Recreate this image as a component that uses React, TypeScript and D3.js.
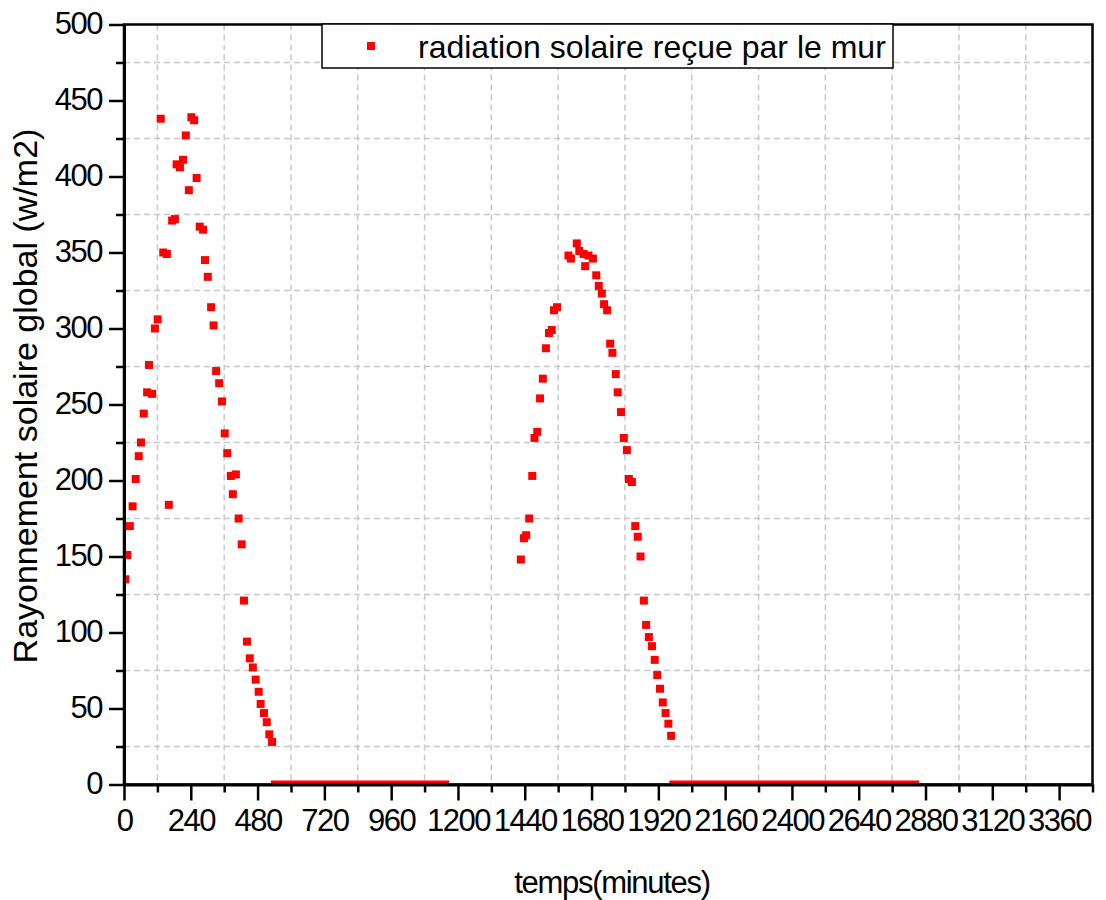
import React, { useEffect, useRef } from 'react';
import * as d3 from 'd3';

const seriesName = 'radiation solaire reçue par le mur';
const xTitle = 'temps(minutes)';
const yTitle = 'Rayonnement solaire global (w/m2)';

// first day, sunlit part
const day1Time = [5, 12, 21, 31, 42, 53, 61, 71, 83, 90, 101, 111, 121, 132, 141, 154, 161, 173, 183, 189,
  201, 212, 222, 233, 242, 252, 261, 272, 284, 291, 301, 313, 322, 331, 342, 352, 362, 371, 384, 391,
  402, 412, 423, 431, 442, 452, 463, 473, 484, 491, 503, 513, 522, 532];
const day1Value = [135, 151, 170, 183, 201, 216, 225, 244, 258, 276, 257, 300, 306, 438, 350, 349, 184, 371, 372, 408,
  406, 411, 427, 391, 439, 437, 399, 367, 365, 345, 334, 314, 302, 272, 264, 252, 231, 218, 203, 191,
  204, 175, 158, 121, 94, 83, 77, 69, 61, 53, 47, 41, 33, 28];

// second day, sunlit part
const day2Time = [1426, 1437, 1445, 1456, 1467, 1475, 1485, 1495, 1505, 1516, 1527, 1537, 1545, 1556,
  1597, 1606, 1627, 1636, 1651, 1657, 1669, 1685, 1697, 1706, 1717, 1725, 1736, 1747, 1755, 1767,
  1774, 1786, 1796, 1807, 1814, 1825, 1837, 1846, 1856, 1868, 1876, 1886, 1897, 1907, 1916, 1926,
  1936, 1946, 1956, 1966];
const day2Value = [148, 162, 164, 175, 203, 228, 232, 254, 267, 287, 297, 299, 312, 314,
  348, 346, 356, 351, 349, 341, 348, 346, 335, 328, 323, 316, 312, 290, 284, 270,
  258, 245, 228, 220, 201, 199, 170, 163, 150, 121, 105, 97, 91, 82, 72, 63,
  54, 47, 40, 32];

// nights: dense runs of zero readings (first and last time of each run)
const zeroRunStart = [542, 1974];
const zeroRunEnd = [1154, 2843];

const xTicks = [0, 240, 480, 720, 960, 1200, 1440, 1680, 1920, 2160, 2400, 2640, 2880, 3120, 3360];
const xMinor = [120, 360, 600, 840, 1080, 1320, 1560, 1800, 2040, 2280, 2520, 2760, 3000, 3240, 3480];
const yTicks = [0, 50, 100, 150, 200, 250, 300, 350, 400, 450, 500];
const yMinor = [25, 75, 125, 175, 225, 275, 325, 375, 425, 475];

const font = '"Liberation Sans", Arial, sans-serif';

function RadiationChart({ width = 1106, height = 900 }) {
  const svgRef = useRef<SVGSVGElement>(null);

  useEffect(() => {
    const svg = d3.select(svgRef.current);
    svg.selectAll('*').remove();

    const left = 124, right = 1092.5, top = 24.5, bottom = 784.5;
    const x = d3.scaleLinear().domain([0, 3480]).range([left, right]);
    const y = d3.scaleLinear().domain([0, 500]).range([bottom, top]);

    svg.append('rect').attr('width', width).attr('height', height).attr('fill', '#fff');

    // dashed grid sits on the minor tick positions only
    const grid = svg.append('g')
      .attr('stroke', '#c8c8c8')
      .attr('stroke-width', 1.5)
      .attr('stroke-dasharray', '6,4');
    grid.selectAll('line.v')
      .data(xMinor.filter(d => d < 3480))
      .enter()
      .append('line')
      .attr('x1', d => x(d)).attr('x2', d => x(d))
      .attr('y1', top).attr('y2', bottom);
    grid.selectAll('line.h')
      .data(yMinor)
      .enter()
      .append('line')
      .attr('x1', left).attr('x2', right)
      .attr('y1', d => y(d)).attr('y2', d => y(d));

    svg.append('clipPath').attr('id', 'plot-clip')
      .append('rect')
      .attr('x', left).attr('y', top)
      .attr('width', right - left).attr('height', bottom - top + 1);

    const points = [
      ...day1Time.map((t, i) => ({ t, v: day1Value[i] })),
      ...day2Time.map((t, i) => ({ t, v: day2Value[i] })),
    ];

    const marks = svg.append('g').attr('clip-path', 'url(#plot-clip)').attr('fill', '#ff0000');
    marks.selectAll('rect.pt')
      .data(points)
      .enter()
      .append('rect')
      .attr('x', d => x(d.t) - 4)
      .attr('y', d => y(d.v) - 4)
      .attr('width', 8)
      .attr('height', 8);
    marks.selectAll('rect.zero')
      .data(zeroRunStart.map((s, i) => ({ s, e: zeroRunEnd[i] })))
      .enter()
      .append('rect')
      .attr('x', d => x(d.s) - 4)
      .attr('y', y(0) - 4)
      .attr('width', d => x(d.e) - x(d.s) + 8)
      .attr('height', 8);

    // frame
    svg.append('rect')
      .attr('x', left).attr('y', top)
      .attr('width', right - left).attr('height', bottom - top)
      .attr('fill', 'none').attr('stroke', '#000').attr('stroke-width', 2.5);

    // x axis
    const xAxis = svg.append('g')
      .attr('transform', `translate(0, ${bottom})`)
      .call(d3.axisBottom(x).tickValues(xTicks).tickFormat(d3.format('d'))
        .tickSizeInner(16).tickSizeOuter(0).tickPadding(0));
    xAxis.select('.domain').attr('stroke-width', 3);
    xAxis.selectAll('line').attr('stroke-width', 2.5);
    xAxis.selectAll('text')
      .attr('y', 46).attr('dy', null)
      .style('font-family', font)
      .style('font-size', '31px')
      .style('letter-spacing', '-1.5px')
      .attr('fill', '#000');
    svg.append('g')
      .attr('transform', `translate(0, ${bottom})`)
      .call(d3.axisBottom(x).tickValues(xMinor).tickSizeInner(8).tickSizeOuter(0).tickFormat(() => ''))
      .call(g => g.select('.domain').remove())
      .selectAll('line').attr('stroke-width', 2.5);

    // y axis
    const yAxis = svg.append('g')
      .attr('transform', `translate(${left}, 0)`)
      .call(d3.axisLeft(y).tickValues(yTicks).tickFormat(d3.format('d'))
        .tickSizeInner(15).tickSizeOuter(0).tickPadding(0));
    yAxis.select('.domain').attr('stroke-width', 3);
    yAxis.selectAll('line').attr('stroke-width', 2.5);
    yAxis.selectAll('text')
      .attr('x', -22).attr('dy', null).attr('y', 8.5)
      .style('font-family', font)
      .style('font-size', '31px')
      .style('letter-spacing', '-1.5px')
      .attr('fill', '#000');
    svg.append('g')
      .attr('transform', `translate(${left}, 0)`)
      .call(d3.axisLeft(y).tickValues(yMinor).tickSizeInner(8).tickSizeOuter(0).tickFormat(() => ''))
      .call(g => g.select('.domain').remove())
      .selectAll('line').attr('stroke-width', 2.5);

    // titles
    svg.append('text')
      .attr('x', 612).attr('y', 893)
      .attr('text-anchor', 'middle')
      .style('font-family', font)
      .style('font-size', '31px')
      .style('letter-spacing', '-1.3px')
      .text(xTitle);
    svg.append('text')
      .attr('transform', 'translate(37, 396) rotate(-90)')
      .attr('text-anchor', 'middle')
      .style('font-family', font)
      .style('font-size', '34px')
      .text(yTitle);

    // legend
    const legend = svg.append('g');
    legend.append('rect')
      .attr('x', 322).attr('y', 24)
      .attr('width', 571).attr('height', 44)
      .attr('fill', '#fff').attr('stroke', '#000').attr('stroke-width', 1.5);
    legend.append('rect')
      .attr('x', 367).attr('y', 42)
      .attr('width', 8).attr('height', 8)
      .attr('fill', '#ff0000');
    legend.append('text')
      .attr('x', 418).attr('y', 58)
      .style('font-family', font)
      .style('font-size', '32px')
      .text(seriesName);
  }, [width, height]);

  return (
    <svg ref={svgRef} width={width} height={height}
      style={{ position: 'absolute', left: 0, top: 0 }} />
  );
}

export default function App() {
  return <RadiationChart />;
}
